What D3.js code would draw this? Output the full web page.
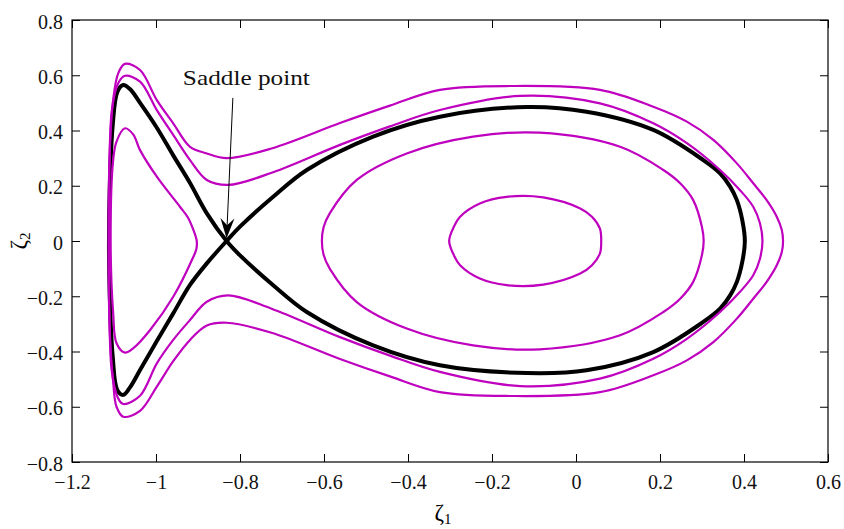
<!DOCTYPE html>
<html>
<head>
<meta charset="utf-8">
<script src="https://cdn.jsdelivr.net/npm/d3@7"></script>
<style>
  body { margin: 0; background: #fff; }
  svg { display: block; }
</style>
</head>
<body>
<svg id="chart" width="844" height="529"></svg>
<script>
// ticks
var xTicks = [-1.2, -1, -0.8, -0.6, -0.4, -0.2, 0, 0.2, 0.4, 0.6];
var xTickLabels = ["\u22121.2", "\u22121", "\u22120.8", "\u22120.6", "\u22120.4", "\u22120.2", "0", "0.2", "0.4", "0.6"];
var yTicks = [-0.8, -0.6, -0.4, -0.2, 0, 0.2, 0.4, 0.6, 0.8];
var yTickLabels = ["\u22120.8", "\u22120.6", "\u22120.4", "\u22120.2", "0", "0.2", "0.4", "0.6", "0.8"];

// trajectories [zeta1, zeta2]
// outermost magenta orbit
var orbitOuter = [
  [-1.074, 0.641], [-1.038, 0.619], [-0.998, 0.510], [-0.959, 0.426], [-0.919, 0.341],
  [-0.879, 0.317], [-0.832, 0.300], [-0.725, 0.335], [-0.562, 0.427], [-0.443, 0.490],
  [-0.324, 0.547], [-0.157, 0.561], [0.057, 0.547], [0.184, 0.486], [0.264, 0.432],
  [0.327, 0.366], [0.383, 0.281], [0.422, 0.209], [0.454, 0.148], [0.478, 0.088],
  [0.490, 0.040], [0.493, 0.000], [0.490, -0.040], [0.478, -0.088], [0.454, -0.148],
  [0.422, -0.209], [0.383, -0.281], [0.327, -0.366], [0.264, -0.432], [0.184, -0.486],
  [0.057, -0.547], [-0.157, -0.561], [-0.324, -0.547], [-0.443, -0.490], [-0.562, -0.427],
  [-0.725, -0.332], [-0.832, -0.296], [-0.879, -0.306], [-0.919, -0.358], [-0.959, -0.435],
  [-0.998, -0.527], [-1.038, -0.615], [-1.078, -0.636], [-1.094, -0.600], [-1.102, -0.510],
  [-1.110, -0.329], [-1.113, 0.000], [-1.110, 0.329], [-1.102, 0.510], [-1.090, 0.607]
];
// second magenta orbit
var orbitSecond = [
  [-1.074, 0.598], [-1.038, 0.577], [-0.998, 0.474], [-0.959, 0.384], [-0.919, 0.293],
  [-0.879, 0.221], [-0.828, 0.203], [-0.721, 0.249], [-0.562, 0.348], [-0.443, 0.415],
  [-0.324, 0.474], [-0.133, 0.525], [0.057, 0.498], [0.184, 0.426], [0.264, 0.354],
  [0.343, 0.257], [0.390, 0.185], [0.422, 0.124], [0.438, 0.064], [0.444, 0.000],
  [0.438, -0.064], [0.422, -0.124], [0.390, -0.185], [0.343, -0.257], [0.264, -0.354],
  [0.184, -0.426], [0.057, -0.498], [-0.133, -0.525], [-0.324, -0.474], [-0.443, -0.415],
  [-0.562, -0.348], [-0.725, -0.245], [-0.828, -0.197], [-0.879, -0.220], [-0.919, -0.286],
  [-0.959, -0.358], [-0.998, -0.443], [-1.038, -0.560], [-1.078, -0.590], [-1.090, -0.570],
  [-1.105, -0.474], [-1.111, -0.257], [-1.112, 0.000], [-1.111, 0.257], [-1.105, 0.474],
  [-1.090, 0.571]
];
// separatrix (black, figure eight through the saddle)
var separatrix = [
  [-0.832, 0.000], [-0.800, 0.052], [-0.721, 0.160], [-0.641, 0.257], [-0.483, 0.378],
  [-0.324, 0.450], [-0.117, 0.485], [0.025, 0.468], [0.184, 0.402], [0.303, 0.293],
  [0.343, 0.245], [0.367, 0.197], [0.383, 0.148], [0.396, 0.075], [0.402, 0.000],
  [0.396, -0.075], [0.383, -0.148], [0.367, -0.197], [0.343, -0.245], [0.303, -0.293],
  [0.184, -0.402], [0.025, -0.468], [-0.117, -0.478], [-0.324, -0.450], [-0.483, -0.378],
  [-0.641, -0.257], [-0.721, -0.160], [-0.800, -0.052], [-0.832, 0.000], [-0.879, 0.100],
  [-0.919, 0.210], [-0.959, 0.310], [-0.998, 0.410], [-1.038, 0.500], [-1.062, 0.550],
  [-1.078, 0.565], [-1.092, 0.540], [-1.103, 0.420], [-1.110, 0.200], [-1.112, 0.000],
  [-1.110, -0.200], [-1.103, -0.420], [-1.092, -0.540], [-1.078, -0.557], [-1.062, -0.530],
  [-1.038, -0.467], [-0.998, -0.362], [-0.959, -0.262], [-0.919, -0.159], [-0.879, -0.081]
];
// middle oval around the centre
var orbitMiddle = [
  [-0.605, 0.000], [-0.601, 0.050], [-0.586, 0.101], [-0.522, 0.221], [-0.403, 0.317],
  [-0.245, 0.378], [-0.086, 0.392], [0.105, 0.341], [0.208, 0.257], [0.248, 0.209],
  [0.279, 0.148], [0.300, 0.050], [0.304, 0.000], [0.300, -0.050], [0.279, -0.148],
  [0.248, -0.209], [0.208, -0.257], [0.105, -0.341], [-0.086, -0.392], [-0.245, -0.378],
  [-0.403, -0.317], [-0.522, -0.221], [-0.586, -0.101], [-0.601, -0.050]
];
// small oval around the centre
var orbitInner = [
  [-0.302, 0.000], [-0.290, 0.054], [-0.276, 0.088], [-0.229, 0.136], [-0.165, 0.160],
  [-0.078, 0.158], [0.010, 0.118], [0.038, 0.088], [0.057, 0.045], [0.060, 0.000],
  [0.057, -0.045], [0.038, -0.088], [0.010, -0.118], [-0.078, -0.158], [-0.165, -0.160],
  [-0.229, -0.136], [-0.276, -0.088], [-0.290, -0.054]
];
// orbit inside the left lobe
var orbitLeft = [
  [-1.074, 0.408], [-1.054, 0.385], [-1.038, 0.329], [-0.998, 0.233], [-0.943, 0.124],
  [-0.924, 0.085], [-0.911, 0.040], [-0.903, 0.000], [-0.904, -0.030], [-0.911, -0.057],
  [-0.959, -0.202], [-1.014, -0.322], [-1.054, -0.388], [-1.074, -0.404], [-1.094, -0.370],
  [-1.102, -0.261], [-1.108, 0.000], [-1.102, 0.293], [-1.094, 0.360]
];

var magentaOrbits = [orbitOuter, orbitSecond, orbitMiddle, orbitInner, orbitLeft];

// annotation (data coords)
var saddleLabel = {text: "Saddle point", x: -0.936, y: 0.565};
var saddleArrow = {x1: -0.817, y1: 0.518, x2: -0.832, y2: 0.010};

var svg = d3.select("#chart");
var plotL = 72, plotR = 828, plotT = 20, plotB = 462;
var font = "'Liberation Serif', serif";

var x = d3.scaleLinear().domain([-1.2, 0.6]).range([plotL, plotR]);
var y = d3.scaleLinear().domain([-0.8, 0.8]).range([plotB, plotT]);

svg.append("rect").attr("width", 844).attr("height", 529).attr("fill", "#fff");

var line = d3.line()
  .x(function(d){ return x(d[0]); })
  .y(function(d){ return y(d[1]); })
  .curve(d3.curveCatmullRomClosed.alpha(0.5));

svg.append("path")
  .attr("d", line(separatrix))
  .attr("fill", "none")
  .attr("stroke", "#000")
  .attr("stroke-width", 4)
  .attr("stroke-linejoin", "round");

svg.selectAll("path.orbit").data(magentaOrbits).enter()
  .append("path")
  .attr("class", "orbit")
  .attr("d", line)
  .attr("fill", "none")
  .attr("stroke", "#bf00bf")
  .attr("stroke-width", 2.2)
  .attr("stroke-linejoin", "round");

// axes, ticks pointing inward on all four sides
function styleAxis(g){
  g.select(".domain").remove();
  g.attr("font-family", font).attr("font-size", 20);
  g.selectAll("line").attr("stroke", "#000");
  g.selectAll("text").attr("fill", "#111");
}
svg.append("g").attr("transform", "translate(0," + plotB + ")")
  .call(d3.axisBottom(x).tickValues(xTicks)
    .tickFormat(function(d, i){ return xTickLabels[i]; })
    .tickSize(-8).tickPadding(13))
  .call(styleAxis);
svg.append("g").attr("transform", "translate(0," + plotT + ")")
  .call(d3.axisTop(x).tickValues(xTicks).tickFormat("").tickSize(-8))
  .call(styleAxis);
svg.append("g").attr("transform", "translate(" + plotL + ",0)")
  .call(d3.axisLeft(y).tickValues(yTicks)
    .tickFormat(function(d, i){ return yTickLabels[i]; })
    .tickSize(-8).tickPadding(9))
  .call(styleAxis)
  .selectAll("text").attr("dy", "0.4em");
svg.append("g").attr("transform", "translate(" + plotR + ",0)")
  .call(d3.axisRight(y).tickValues(yTicks).tickFormat("").tickSize(-8))
  .call(styleAxis);

svg.append("rect")
  .attr("x", plotL).attr("y", plotT)
  .attr("width", plotR - plotL).attr("height", plotB - plotT)
  .attr("fill", "none").attr("stroke", "#000").attr("stroke-width", 1.2);

// axis titles
var xt = svg.append("text")
  .attr("x", 443).attr("y", 520)
  .attr("text-anchor", "middle")
  .attr("font-family", font).attr("font-size", 23)
  .text("\u03b6");
xt.append("tspan").attr("font-size", 15).attr("dy", 4).text("1");

var yt = svg.append("text")
  .attr("transform", "translate(26,241) rotate(-90)")
  .attr("text-anchor", "middle")
  .attr("font-family", font).attr("font-size", 23)
  .text("\u03b6");
yt.append("tspan").attr("font-size", 15).attr("dy", 4).text("2");

// saddle point annotation
svg.append("text")
  .attr("x", x(saddleLabel.x)).attr("y", y(saddleLabel.y))
  .attr("font-family", font).attr("font-size", 21)
  .attr("textLength", 127).attr("lengthAdjust", "spacingAndGlyphs")
  .attr("fill", "#111")
  .text(saddleLabel.text);

var ax1 = x(saddleArrow.x1), ay1 = y(saddleArrow.y1),
    ax2 = x(saddleArrow.x2), ay2 = y(saddleArrow.y2);
var len = Math.hypot(ax2 - ax1, ay2 - ay1);
var ux = (ax2 - ax1) / len, uy = (ay2 - ay1) / len;
var nx = -uy, ny = ux;
var headL = 20, headW = 7, notch = 13;

svg.append("line")
  .attr("x1", ax1).attr("y1", ay1)
  .attr("x2", ax2 - ux * notch).attr("y2", ay2 - uy * notch)
  .attr("stroke", "#000").attr("stroke-width", 1);

var head = d3.path();
head.moveTo(ax2, ay2);
head.lineTo(ax2 - ux * headL + nx * headW, ay2 - uy * headL + ny * headW);
head.lineTo(ax2 - ux * notch, ay2 - uy * notch);
head.lineTo(ax2 - ux * headL - nx * headW, ay2 - uy * headL - ny * headW);
head.closePath();
svg.append("path").attr("d", head.toString()).attr("fill", "#000");
</script>
</body>
</html>
